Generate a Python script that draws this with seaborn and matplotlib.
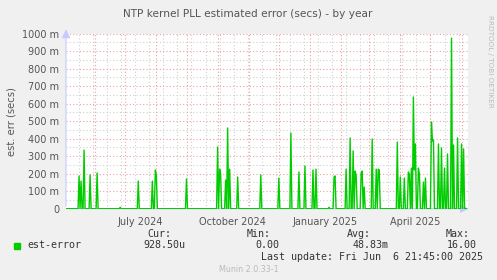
import numpy as np
import pandas as pd
import matplotlib
matplotlib.use("Agg")
import matplotlib.pyplot as plt
import matplotlib.dates as mdates
import seaborn as sns

# ---- data (values in milliseconds = "m" units of secs) ----
start_date = "2024-05-03"
end_date = "2025-06-06"
spike_dates = [
    "2024-05-16", "2024-05-18", "2024-05-21", "2024-05-27", "2024-06-03", "2024-06-26",
    "2024-07-14", "2024-07-28", "2024-07-31", "2024-08-01", "2024-08-31",
    "2024-10-01", "2024-10-03", "2024-10-04", "2024-10-09", "2024-10-11", "2024-10-13",
    "2024-10-21", "2024-11-13", "2024-12-01", "2024-12-13", "2024-12-21", "2024-12-27",
    "2025-01-04", "2025-01-07", "2025-01-20", "2025-01-25", "2025-01-26",
    "2025-02-06", "2025-02-10", "2025-02-13", "2025-02-15", "2025-02-16",
    "2025-02-21", "2025-02-22", "2025-02-24", "2025-03-04", "2025-03-08",
    "2025-03-10", "2025-03-11", "2025-03-29", "2025-04-01", "2025-04-05",
    "2025-04-09", "2025-04-10", "2025-04-12", "2025-04-14", "2025-04-15",
    "2025-04-16", "2025-04-19", "2025-04-20", "2025-04-24", "2025-04-26",
    "2025-05-02", "2025-05-03", "2025-05-04", "2025-05-09", "2025-05-12",
    "2025-05-15", "2025-05-18", "2025-05-22", "2025-05-24", "2025-05-28",
    "2025-06-01", "2025-06-03",
]
spike_values = [
    187, 158, 335, 193, 204, 8,
    158, 158, 221, 190, 170,
    352, 226, 200, 164, 461, 226,
    181, 193, 175, 432, 210, 244,
    221, 226, 8, 181, 187,
    226, 404, 330, 215, 190,
    204, 215, 124, 398, 226,
    226, 221, 381, 181, 175,
    210, 198, 232, 638, 221,
    370, 232, 198, 152, 175,
    495, 387, 393, 370, 347,
    232, 313, 975, 364, 404,
    370, 341,
]
y_ticks = [0, 100, 200, 300, 400, 500, 600, 700, 800, 900, 1000]
y_tick_labels = ["0"] + [f"{v} m" for v in y_ticks[1:]]
month_labels = ["July 2024", "October 2024", "January 2025", "April 2025"]
month_label_dates = ["2024-07-16", "2024-10-16", "2025-01-16", "2025-04-16"]
legend_name = "est-error"
legend_cur = "928.50u"
legend_min = "0.00"
legend_avg = "48.83m"
legend_max = "16.00"
last_update = "Last update: Fri Jun  6 21:45:00 2025"

# ---- build series ----
days = pd.date_range(start_date, end_date, freq="D")
series = pd.Series(0.0, index=days)
for d, v in zip(spike_dates, spike_values):
    series[pd.Timestamp(d)] = v
df = pd.DataFrame({"date": series.index, "value": series.values})

sns.set_style("white")
plt.rcParams["font.family"] = ["DejaVu Sans"]

W, H = 497, 280
fig = plt.figure(figsize=(W / 100, H / 100), dpi=100)
fig.patch.set_facecolor("#f0f0f0")

L, R, T, B = 66, 467.5, 33.7, 208.7
ax = fig.add_axes([L / W, 1 - B / H, (R - L) / W, (B - T) / H])
ax.set_facecolor("white")

x0 = pd.Timestamp(start_date)
x1 = pd.Timestamp("2025-06-06 21:45")
ax.set_xlim(x0, x1)
ax.set_ylim(0, 1000)

# grid
minor_c = "#d0d0d0"
major_c = "#f0a0a0"
dot = (0, (1, 2))
for v in range(50, 1000, 100):
    ax.axhline(v, color=minor_c, lw=0.8, ls=dot, zorder=0)
for v in y_ticks[1:]:
    ax.axhline(v, color=major_c, lw=0.8, ls=dot, zorder=0.5)
for d in pd.date_range("2024-05-16", x1, freq="14D"):
    ax.axvline(d, color=minor_c, lw=0.8, ls=dot, zorder=0)
for d in pd.date_range("2024-06-01", x1, freq="MS"):
    ax.axvline(d, color=major_c, lw=0.8, ls=dot, zorder=0.5)

sns.lineplot(data=df, x="date", y="value", ax=ax, color="#00cc00", lw=1.0, zorder=3)

for s in ax.spines.values():
    s.set_visible(False)
ax.set_xticks([])
ax.set_yticks(y_ticks)
ax.set_yticklabels(y_tick_labels)
ax.tick_params(axis="y", length=0, pad=5, labelsize=7, labelcolor="#555555")
ax.set_xlabel("")
ax.set_ylabel("est. err (secs)", fontsize=7.2, color="#555555", labelpad=4)

# axis arrows
axis_c = "#c8c8ff"
ax.annotate("", xy=(1.01, 0), xytext=(0, 0), xycoords="axes fraction",
            arrowprops=dict(arrowstyle="-|>,head_length=0.5,head_width=0.25", color=axis_c, lw=0.8),
            annotation_clip=False, zorder=2)
ax.annotate("", xy=(0, 1.04), xytext=(0, 0), xycoords="axes fraction",
            arrowprops=dict(arrowstyle="-|>,head_length=0.5,head_width=0.25", color=axis_c, lw=0.8),
            annotation_clip=False, zorder=2)

# month labels
trans = ax.get_xaxis_transform()
for lab, d in zip(month_labels, month_label_dates):
    ax.text(pd.Timestamp(d), -0.045, lab, transform=trans, ha="center", va="top",
            fontsize=7, color="#555555")

def ft(x, y, s, **kw):
    fig.text(x / W, 1 - y / H, s, **kw)

ft(248, 14, "NTP kernel PLL estimated error (secs) - by year", ha="center", va="center",
   fontsize=7.6, color="#555555")
ft(490, 15, "RRDTOOL / TOBI OETIKER", rotation=270, ha="center", va="top",
   fontsize=5.2, color="#bbbbbb")

mono = dict(family="DejaVu Sans Mono", fontsize=7.2, color="#333333")
fig.patches.append(plt.Rectangle((14 / W, 1 - 248.5 / H), 6 / W, 6 / H,
                                 transform=fig.transFigure, color="#00cc00"))
ft(27, 245, legend_name, ha="left", va="center", **mono)
ft(171, 234, "Cur:", ha="right", va="center", **mono)
ft(185, 245, legend_cur, ha="right", va="center", **mono)
ft(271, 234, "Min:", ha="right", va="center", **mono)
ft(279, 245, legend_min, ha="right", va="center", **mono)
ft(371, 234, "Avg:", ha="right", va="center", **mono)
ft(389, 245, legend_avg, ha="right", va="center", **mono)
ft(470, 234, "Max:", ha="right", va="center", **mono)
ft(477, 245, legend_max, ha="right", va="center", **mono)
ft(483, 257, last_update, ha="right", va="center", **mono)
ft(249, 269, "Munin 2.0.33-1", ha="center", va="center", fontsize=5.8, color="#bbbbbb")

fig.savefig("out.png", dpi=100, facecolor=fig.get_facecolor())
